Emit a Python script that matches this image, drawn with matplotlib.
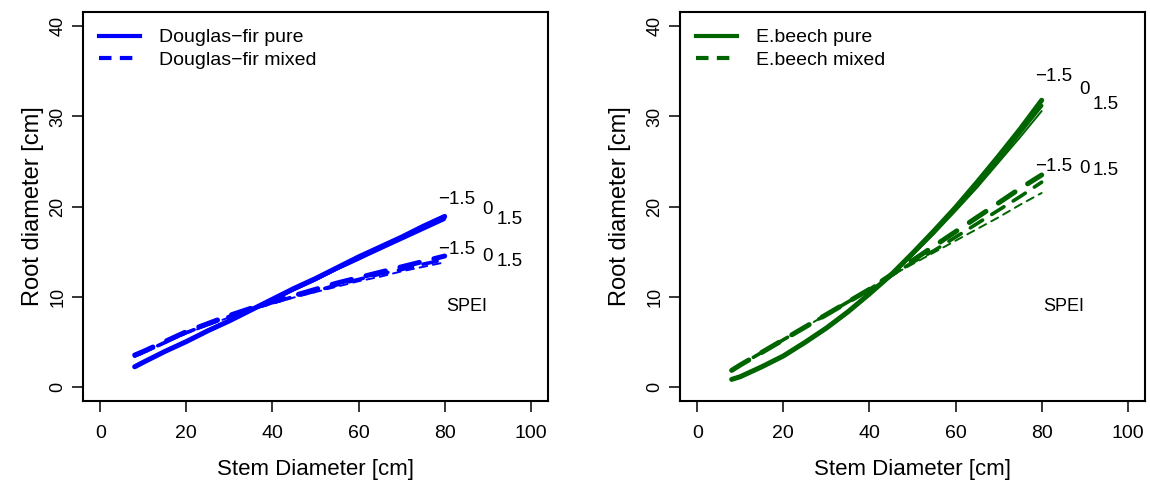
import matplotlib
matplotlib.use("Agg")
import matplotlib.pyplot as plt
from matplotlib.lines import Line2D

plt.rcParams['font.family'] = ['Liberation Sans', 'DejaVu Sans']

# Stem diameter [cm] at which the model curves were read
stem = [8, 10, 15, 20, 25, 30, 35, 40, 45, 50, 55, 60, 65, 70, 75, 80]
spei = ['\u22121.5', '0', '1.5']

# Douglas-fir, root diameter [cm] for SPEI -1.5, 0, 1.5
df_pure_m15 = [2.2, 2.7, 3.9, 5.0, 6.2, 7.3, 8.5, 9.7, 10.9, 12.0, 13.2, 14.4, 15.5, 16.6, 17.8, 18.9]
df_pure_0 = [2.2, 2.7, 3.9, 5.0, 6.2, 7.3, 8.5, 9.6, 10.8, 11.9, 13.1, 14.2, 15.4, 16.5, 17.6, 18.7]
df_pure_p15 = [2.2, 2.7, 3.9, 5.0, 6.1, 7.3, 8.4, 9.6, 10.7, 11.8, 13.0, 14.1, 15.2, 16.3, 17.4, 18.5]
df_mixed_m15 = [3.5, 3.9, 5.0, 6.1, 7.0, 7.9, 8.7, 9.4, 10.1, 10.8, 11.5, 12.1, 12.7, 13.3, 13.9, 14.5]
df_mixed_0 = [3.4, 3.8, 4.9, 6.0, 6.9, 7.8, 8.6, 9.3, 10.0, 10.6, 11.3, 11.9, 12.5, 13.0, 13.6, 14.1]
df_mixed_p15 = [3.3, 3.7, 4.8, 5.9, 6.8, 7.7, 8.5, 9.2, 9.9, 10.5, 11.1, 11.7, 12.2, 12.8, 13.3, 13.8]

# European beech, root diameter [cm] for SPEI -1.5, 0, 1.5
eb_pure_m15 = [0.8, 1.1, 2.2, 3.4, 4.9, 6.5, 8.3, 10.3, 12.4, 14.8, 17.3, 19.9, 22.7, 25.6, 28.6, 31.8]
eb_pure_0 = [0.8, 1.1, 2.2, 3.4, 4.9, 6.5, 8.3, 10.3, 12.4, 14.7, 17.1, 19.7, 22.4, 25.2, 28.2, 31.2]
eb_pure_p15 = [0.8, 1.1, 2.2, 3.4, 4.8, 6.4, 8.2, 10.2, 12.3, 14.6, 17.0, 19.5, 22.1, 24.9, 27.7, 30.6]
eb_mixed_m15 = [1.8, 2.4, 3.8, 5.2, 6.6, 8.0, 9.4, 10.8, 12.4, 14.0, 15.6, 17.2, 18.8, 20.4, 22.0, 23.5]
eb_mixed_0 = [1.8, 2.4, 3.8, 5.2, 6.6, 8.0, 9.4, 10.8, 12.3, 13.8, 15.1, 16.6, 18.1, 19.6, 21.1, 22.7]
eb_mixed_p15 = [1.8, 2.4, 3.8, 5.2, 6.6, 8.0, 9.4, 10.7, 12.3, 13.6, 14.9, 16.2, 17.5, 18.8, 20.2, 21.5]

widths = [3.6, 2.6, 1.4]  # line width per SPEI level
dash = (4, 3)

panels = [
    dict(name='Douglas\u2212fir', color='#0000ff',
         pure=[df_pure_m15, df_pure_0, df_pure_p15],
         mixed=[df_mixed_m15, df_mixed_0, df_mixed_p15],
         lab_pure=[(82.7, 20.8), (89.9, 19.7), (95.0, 18.6)],
         lab_mixed=[(82.7, 15.2), (89.9, 14.4), (95.0, 13.9)],
         left=83, ylab_x=-0.084),
    dict(name='E.beech', color='#006400',
         pure=[eb_pure_m15, eb_pure_0, eb_pure_p15],
         mixed=[eb_mixed_m15, eb_mixed_0, eb_mixed_p15],
         lab_pure=[(82.8, 34.4), (90.0, 33.0), (94.9, 31.3)],
         lab_mixed=[(82.8, 24.4), (90.0, 24.2), (94.9, 24.0)],
         left=680, ylab_x=-0.105),
]

fig = plt.figure(figsize=(11.5, 4.84), dpi=100)

for p in panels:
    ax = fig.add_axes([p['left'] / 1150, 1 - 401 / 484, 465 / 1150, 389 / 484])
    c = p['color']

    for y, lw in zip(p['pure'], widths):
        ax.plot(stem, y, color=c, lw=lw, solid_capstyle='round')
    for y, lw in zip(p['mixed'], widths):
        ax.plot(stem, y, color=c, lw=lw, ls=(0, dash), dash_capstyle='round')

    # SPEI labels at the line ends
    for (tx, ty), s in zip(p['lab_pure'], spei):
        ax.text(tx, ty, s, fontsize=13.5, ha='center', va='center')
    for (tx, ty), s in zip(p['lab_mixed'], spei):
        ax.text(tx, ty, s, fontsize=13.5, ha='center', va='center')
    ax.text(85.2, 8.9, 'SPEI', fontsize=13, ha='center', va='center')

    ax.set_xlim(-4, 104)
    ax.set_ylim(-1.6, 41.6)
    ax.set_xticks([0, 20, 40, 60, 80, 100])
    ax.set_yticks([0, 10, 20, 30, 40])
    ax.tick_params(direction='out', length=8, width=1.1, labelsize=14)
    ax.tick_params(axis='x', pad=9.5)
    ax.tick_params(axis='y', pad=4, labelsize=13, labelrotation=90)
    plt.setp(ax.get_yticklabels(), va='center')
    for sp in ax.spines.values():
        sp.set_linewidth(1.5)

    ax.set_xlabel('Stem Diameter [cm]', fontsize=16, labelpad=12)
    ax.set_ylabel('Root diameter [cm]', fontsize=17)
    ax.yaxis.set_label_coords(p['ylab_x'], 0.5)

    handles = [Line2D([], [], color=c, lw=3),
               Line2D([], [], color=c, lw=3, ls=(0, (3, 2)))]
    ax.legend(handles, [p['name'] + ' pure', p['name'] + ' mixed'],
              loc='upper left', bbox_to_anchor=(0.035, 0.957), frameon=False,
              fontsize=14, handlelength=2.1, handletextpad=0.95,
              labelspacing=0.25, borderpad=0, borderaxespad=0)

plt.savefig('out.png', dpi=100)
